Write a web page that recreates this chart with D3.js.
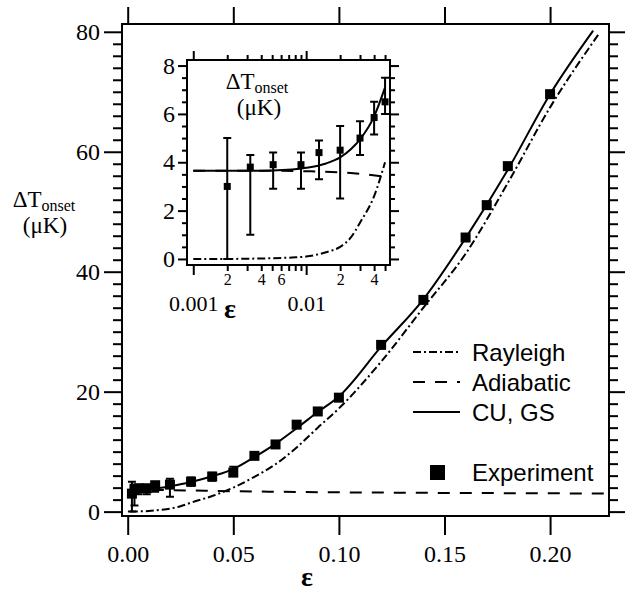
<!DOCTYPE html>
<html>
<head>
<meta charset="utf-8">
<script src="https://cdn.jsdelivr.net/npm/d3@7"></script>
<style>
  body { margin: 0; background: #fff; }
  svg { display: block; }
  .serif { font-family: "Liberation Serif", "Times New Roman", serif; }
  .sans { font-family: "Liberation Sans", Arial, Helvetica, sans-serif; }
</style>
</head>
<body>
<div id="chart"></div>
<script>
// experiment (squares with error bars)
let expEps = [0.002, 0.0032, 0.0051, 0.009, 0.013, 0.02, 0.03, 0.04, 0.05, 0.06, 0.07, 0.08, 0.09, 0.10, 0.12, 0.14, 0.16, 0.17, 0.18, 0.20];
let expT = [3.0, 3.8, 3.9, 3.9, 4.4, 4.5, 5.0, 5.85, 6.5, 9.3, 11.2, 14.5, 16.7, 19.0, 27.8, 35.3, 45.7, 51.1, 57.6, 69.6];
let expLow = [0.0, 1.0, 2.9, 2.9, 3.3, 2.5, 4.3, 5.15, 6.0, null, null, null, null, null, null, null, null, null, null, null];
let expHigh = [5.0, 4.3, 4.4, 4.4, 4.9, 5.5, 5.7, 6.5, 7.5, null, null, null, null, null, null, null, null, null, null, null];

// CU, GS (solid)
let cuEps = [0.001, 0.002, 0.003, 0.005, 0.0075, 0.01, 0.015, 0.02, 0.025, 0.03, 0.04, 0.05, 0.06, 0.07, 0.08, 0.09, 0.10, 0.12, 0.14, 0.16, 0.18, 0.20, 0.2204];
let cuT = [3.65, 3.65, 3.65, 3.66, 3.7, 3.77, 3.95, 4.2, 4.55, 4.95, 5.9, 7.1, 9.1, 11.3, 13.9, 16.6, 19.2, 27.5, 35.4, 45.6, 57.0, 69.6, 80.2];

// Rayleigh (dash-dot)
let rayEps = [0.001, 0.002, 0.003, 0.005, 0.0075, 0.01, 0.015, 0.02, 0.025, 0.03, 0.04, 0.05, 0.06, 0.07, 0.08, 0.09, 0.10, 0.12, 0.14, 0.16, 0.18, 0.20, 0.2234];
let rayT = [0.0, 0.0, 0.01, 0.03, 0.06, 0.1, 0.28, 0.5, 0.9, 1.5, 2.6, 4.0, 5.8, 7.9, 10.7, 14.0, 17.2, 25.0, 34.0, 43.0, 54.8, 67.4, 79.8];

// Adiabatic (dashed)
let adiEps = [0.001, 0.005, 0.01, 0.02, 0.03, 0.05, 0.08, 0.10, 0.15, 0.20, 0.226];
let adiT = [3.65, 3.65, 3.63, 3.58, 3.52, 3.4, 3.28, 3.22, 3.12, 3.05, 3.02];

// axis ticks
let mainXTicks = [0, 0.05, 0.1, 0.15, 0.2];
let mainYTicks = [0, 20, 40, 60, 80];
let insetYTicks = [0, 2, 4, 6, 8];
let insetXMajor = [0.001, 0.01];
let insetXLabeled = [0.002, 0.004, 0.006, 0.02, 0.04];

let legendItems = [
  { name: "Rayleigh", dash: "8,3,2,3" },
  { name: "Adiabatic", dash: "12,10" },
  { name: "CU, GS", dash: null },
];

const zip = (xs, ys) => xs.map((x, i) => ({ x: x, y: ys[i] }));
let expData = expEps.map((e, i) => ({ x: e, y: expT[i], lo: expLow[i], hi: expHigh[i] }));
let series = [
  { data: zip(rayEps, rayT), dash: "8,3,2,3" },
  { data: zip(adiEps, adiT), dash: "12,10" },
  { data: zip(cuEps, cuT), dash: null },
];

let svg = d3.select("#chart").append("svg").attr("width", 625).attr("height", 593);

// ---------- main plot ----------
let frame = { left: 122, right: 609, top: 24, bottom: 516 };
let x = d3.scaleLinear().domain([-0.0027, 0.2279]).range([frame.left, frame.right]);
let y = d3.scaleLinear().domain([-0.73, 81.3]).range([frame.bottom, frame.top]);

function styleAxis(g, fontSize) {
  g.select(".domain").remove();
  g.selectAll(".tick line").attr("stroke", "#000").attr("stroke-width", 2);
  g.selectAll("text").attr("fill", "#000").attr("class", "serif").style("font-size", fontSize + "px");
}

let minorY = d3.range(0, 81, 2).filter((v) => v % 20 !== 0);
svg.append("g").attr("transform", `translate(${frame.left},0)`)
  .call(d3.axisLeft(y).tickValues(mainYTicks).tickSize(18).tickPadding(4))
  .call((g) => styleAxis(g, 24));
svg.append("g").attr("transform", `translate(${frame.left},0)`)
  .call(d3.axisLeft(y).tickValues(minorY).tickSize(9).tickFormat(""))
  .call((g) => styleAxis(g, 24));
svg.append("g").attr("transform", `translate(${frame.right},0)`)
  .call(d3.axisRight(y).tickValues(mainYTicks).tickSize(16).tickFormat(""))
  .call((g) => styleAxis(g, 24));
svg.append("g").attr("transform", `translate(${frame.right},0)`)
  .call(d3.axisRight(y).tickValues(minorY).tickSize(9).tickFormat(""))
  .call((g) => styleAxis(g, 24));
svg.append("g").attr("transform", `translate(0,${frame.bottom})`)
  .call(d3.axisBottom(x).tickValues(mainXTicks).tickSize(19).tickPadding(10).tickFormat(d3.format(".2f")))
  .call((g) => styleAxis(g, 24));
svg.append("g").attr("transform", `translate(0,${frame.top})`)
  .call(d3.axisTop(x).tickValues(mainXTicks).tickSize(17).tickFormat(""))
  .call((g) => styleAxis(g, 24));

svg.append("rect")
  .attr("x", frame.left).attr("y", frame.top)
  .attr("width", frame.right - frame.left).attr("height", frame.bottom - frame.top)
  .attr("fill", "none").attr("stroke", "#000").attr("stroke-width", 2);

svg.append("clipPath").attr("id", "mainClip").append("rect")
  .attr("x", frame.left).attr("y", frame.top)
  .attr("width", frame.right - frame.left).attr("height", frame.bottom - frame.top);

let mainArea = svg.append("g").attr("clip-path", "url(#mainClip)");
let mainLine = d3.line().x((d) => x(d.x)).y((d) => y(d.y)).curve(d3.curveMonotoneX);
mainArea.selectAll(".curve")
  .data(series)
  .join("path")
  .attr("class", "curve")
  .attr("d", (s) => mainLine(s.data))
  .attr("fill", "none")
  .attr("stroke", "#000")
  .attr("stroke-width", 2)
  .attr("stroke-dasharray", (s) => s.dash);

function drawPoints(g, xs, ys, data, size, cap) {
  let withErr = data.filter((d) => d.lo !== null);
  g.selectAll(".err")
    .data(withErr)
    .join("path")
    .attr("class", "err")
    .attr("d", (d) =>
      `M${xs(d.x)},${ys(d.lo)}V${ys(d.hi)}` +
      `M${xs(d.x) - cap / 2},${ys(d.lo)}h${cap}` +
      `M${xs(d.x) - cap / 2},${ys(d.hi)}h${cap}`)
    .attr("stroke", "#000")
    .attr("stroke-width", 2)
    .attr("fill", "none");
  g.selectAll(".pt")
    .data(data)
    .join("rect")
    .attr("class", "pt")
    .attr("x", (d) => xs(d.x) - size / 2)
    .attr("y", (d) => ys(d.y) - size / 2)
    .attr("width", size)
    .attr("height", size)
    .attr("fill", "#000");
}
drawPoints(mainArea.append("g"), x, y, expData, 10, 8);

// legend
let legend = svg.append("g").attr("class", "sans");
legendItems.forEach((it, i) => {
  let ly = 352 + i * 30;
  legend.append("line")
    .attr("x1", 413).attr("x2", 460).attr("y1", ly).attr("y2", ly)
    .attr("stroke", "#000").attr("stroke-width", 2)
    .attr("stroke-dasharray", it.dash);
  legend.append("text").attr("x", 472).attr("y", ly + 8.5)
    .style("font-size", "24px").text(it.name);
});
legend.append("rect").attr("x", 430).attr("y", 465).attr("width", 15).attr("height", 15).attr("fill", "#000");
legend.append("text").attr("x", 472).attr("y", 481).style("font-size", "24px").text("Experiment");

// axis titles
svg.append("text").attr("class", "serif")
  .attr("x", 307).attr("y", 586).attr("text-anchor", "middle")
  .style("font-size", "28px").style("font-weight", "bold").text("ε");
let yTitle = svg.append("text").attr("class", "serif").attr("text-anchor", "middle").style("font-size", "23px");
yTitle.append("tspan").attr("x", 44).attr("y", 207).text("ΔT");
yTitle.append("tspan").attr("dy", 4).style("font-size", "16px").text("onset");
svg.append("text").attr("class", "serif").attr("x", 45).attr("y", 233)
  .attr("text-anchor", "middle").style("font-size", "23px").text("(μK)");

// ---------- inset ----------
let inset = { left: 187, right: 390, top: 60, bottom: 265 };
let xi = d3.scaleLog().domain([0.00088, 0.0553]).range([inset.left, inset.right]);
let yi = d3.scaleLinear().domain([-0.25, 8.23]).range([inset.bottom, inset.top]);

svg.append("rect")
  .attr("x", inset.left).attr("y", inset.top)
  .attr("width", inset.right - inset.left).attr("height", inset.bottom - inset.top)
  .attr("fill", "#fff");

let insetMinorY = d3.range(0, 8.01, 0.5).filter((v) => v % 2 !== 0);
let insetMinorX = [2, 3, 4, 5, 6, 7, 8, 9].map((k) => k * 0.001).concat([2, 3, 4, 5].map((k) => k * 0.01));

svg.append("g").attr("transform", `translate(${inset.left},0)`)
  .call(d3.axisLeft(yi).tickValues(insetYTicks).tickSize(9).tickPadding(3).tickFormat(d3.format("d")))
  .call((g) => styleAxis(g, 24));
svg.append("g").attr("transform", `translate(${inset.left},0)`)
  .call(d3.axisLeft(yi).tickValues(insetMinorY).tickSize(5).tickFormat(""))
  .call((g) => styleAxis(g, 24));
svg.append("g").attr("transform", `translate(${inset.right},0)`)
  .call(d3.axisRight(yi).tickValues(insetYTicks).tickSize(9).tickFormat(""))
  .call((g) => styleAxis(g, 24));
svg.append("g").attr("transform", `translate(${inset.right},0)`)
  .call(d3.axisRight(yi).tickValues(insetMinorY).tickSize(5).tickFormat(""))
  .call((g) => styleAxis(g, 24));
svg.append("g").attr("transform", `translate(0,${inset.bottom})`)
  .call(d3.axisBottom(xi).tickValues(insetXMajor).tickSize(10).tickPadding(20).tickFormat((d) => (d === 0.001 ? "0.001" : "0.01")))
  .call((g) => styleAxis(g, 22));
svg.append("g").attr("transform", `translate(0,${inset.bottom})`)
  .call(d3.axisBottom(xi).tickValues(insetMinorX).tickSize(6).tickPadding(3)
    .tickFormat((d) => (insetXLabeled.some((v) => Math.abs(v - d) < 1e-9) ? d3.format(".1")(d).slice(-1) : "")))
  .call((g) => styleAxis(g, 16));
svg.append("g").attr("transform", `translate(0,${inset.top})`)
  .call(d3.axisTop(xi).tickValues(insetXMajor).tickSize(9).tickFormat(""))
  .call((g) => styleAxis(g, 16));
svg.append("g").attr("transform", `translate(0,${inset.top})`)
  .call(d3.axisTop(xi).tickValues(insetMinorX).tickSize(5).tickFormat(""))
  .call((g) => styleAxis(g, 16));

svg.append("rect")
  .attr("x", inset.left).attr("y", inset.top)
  .attr("width", inset.right - inset.left).attr("height", inset.bottom - inset.top)
  .attr("fill", "none").attr("stroke", "#000").attr("stroke-width", 2);

svg.append("clipPath").attr("id", "insetClip").append("rect")
  .attr("x", inset.left).attr("y", inset.top)
  .attr("width", inset.right - inset.left).attr("height", inset.bottom - inset.top);
let insetArea = svg.append("g").attr("clip-path", "url(#insetClip)");
let insetLine = d3.line().x((d) => xi(d.x)).y((d) => yi(d.y)).curve(d3.curveMonotoneX);
insetArea.selectAll(".curve")
  .data(series)
  .join("path")
  .attr("class", "curve")
  .attr("d", (s) => insetLine(s.data.filter((d) => d.x <= 0.05)))
  .attr("fill", "none")
  .attr("stroke", "#000")
  .attr("stroke-width", 2)
  .attr("stroke-dasharray", (s) => s.dash);
drawPoints(insetArea.append("g"), xi, yi, expData.filter((d) => d.x <= 0.05), 7, 8);

let insetTitle = svg.append("text").attr("class", "serif").attr("text-anchor", "middle").style("font-size", "23px");
insetTitle.append("tspan").attr("x", 257).attr("y", 89).text("ΔT");
insetTitle.append("tspan").attr("dy", 4).style("font-size", "16px").text("onset");
svg.append("text").attr("class", "serif").attr("x", 259).attr("y", 115)
  .attr("text-anchor", "middle").style("font-size", "23px").text("(μK)");
svg.append("text").attr("class", "serif")
  .attr("x", 230).attr("y", 318).attr("text-anchor", "middle")
  .style("font-size", "28px").style("font-weight", "bold").text("ε");
</script>
</body>
</html>
